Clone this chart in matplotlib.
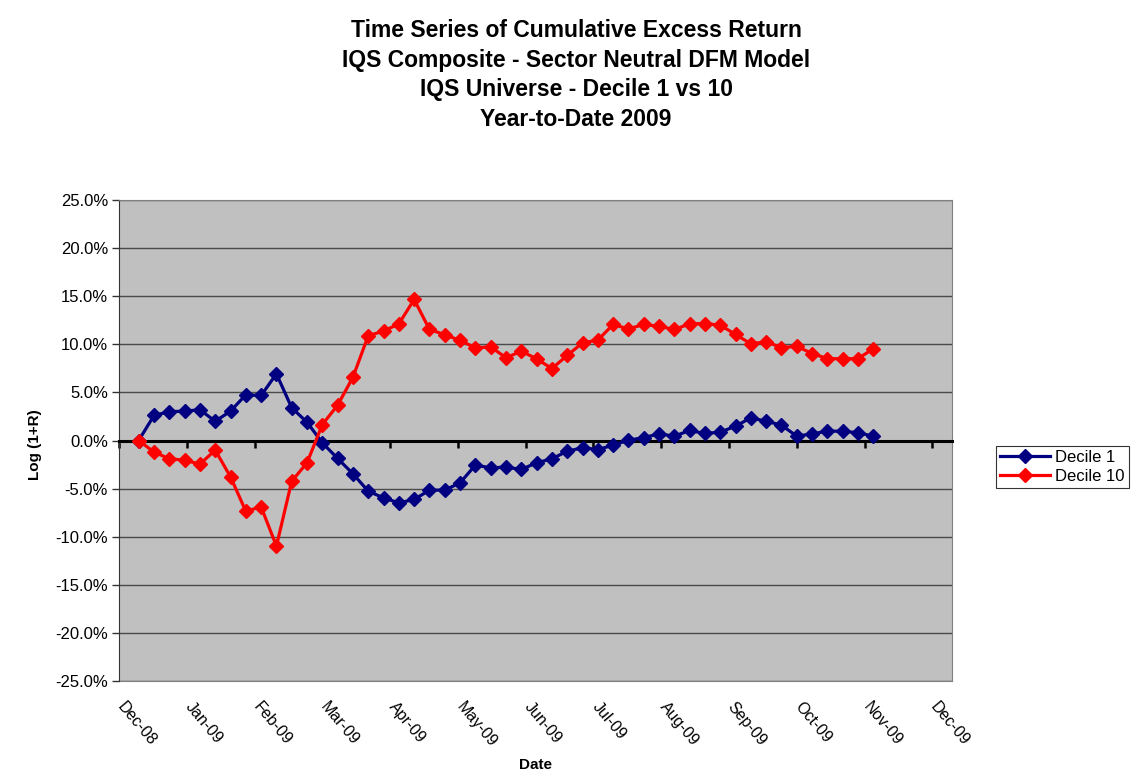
import matplotlib
matplotlib.use("Agg")
import matplotlib.pyplot as plt
import matplotlib.dates as mdates
from matplotlib.ticker import FuncFormatter
from matplotlib.transforms import ScaledTranslation
import numpy as np
import pandas as pd

plt.rcParams['font.family'] = ['Liberation Sans', 'DejaVu Sans']

# Weekly observations, first one on 31 Dec 2008
dates = pd.date_range('2008-12-31', periods=49, freq='7D')

# Cumulative excess return, log(1+R), in percent
decile_1 = [0.0, 2.6, 3.0, 3.05, 3.2, 2.0, 3.05, 4.75, 4.68, 6.93,
            3.4, 1.9, -0.24, -1.87, -3.46, -5.27, -5.96, -6.48, -6.13, -5.16,
            -5.16, -4.4, -2.56, -2.84, -2.77, -3.01, -2.32, -1.9, -1.11, -0.76,
            -0.94, -0.49, 0.03, 0.3, 0.69, 0.45, 1.04, 0.73, 0.87, 1.49,
            2.36, 2.0, 1.6, 0.45, 0.69, 0.97, 0.97, 0.8, 0.45]
decile_10 = [0.0, -1.2, -1.9, -2.04, -2.46, -1.0, -3.78, -7.35, -6.9, -10.98,
             -4.23, -2.32, 1.66, 3.67, 6.58, 10.9, 11.36, 12.13, 14.66, 11.54,
             11.0, 10.4, 9.63, 9.74, 8.6, 9.28, 8.49, 7.48, 8.84, 10.15,
             10.43, 12.06, 11.6, 12.06, 11.88, 11.54, 12.13, 12.16, 11.99, 11.02,
             10.05, 10.26, 9.65, 9.8, 9.04, 8.52, 8.49, 8.52, 9.53]

title = ("Time Series of Cumulative Excess Return\n"
         "IQS Composite - Sector Neutral DFM Model\n"
         "IQS Universe - Decile 1 vs 10\n"
         "Year-to-Date 2009")

# Excel-style date axis: starts 22 Dec 2008, major unit 31 days
axis_start = pd.Timestamp('2008-12-22')
tick_dates = [axis_start + pd.Timedelta(days=31 * k) for k in range(13)]
tick_pos = mdates.date2num(tick_dates)
tick_labels = [d.strftime('%b-%y') for d in tick_dates]


def pct(v, pos):
    v = round(v * 100, 1) + 0.0
    return f"{v:.1f}%"


W, H = 1137, 777
fig = plt.figure(figsize=(W / 100, H / 100), dpi=100)
ax = fig.add_axes([119 / W, (H - 681) / H, (952 - 119) / W, (681 - 200) / H])
ax.set_facecolor('#C0C0C0')

x = mdates.date2num(dates)
ax.plot(x, np.array(decile_1) / 100, color='#000080', marker='D', ms=7.3,
        lw=2.3, label='Decile 1', zorder=4)
ax.plot(x, np.array(decile_10) / 100, color='#FF0000', marker='D', ms=7.3,
        lw=2.3, label='Decile 10', zorder=4)

ax.set_xlim(mdates.date2num(axis_start),
            mdates.date2num(axis_start + pd.Timedelta(days=381)))
ax.set_ylim(-0.25, 0.25)
ax.set_yticks(np.arange(-0.25, 0.2501, 0.05))
ax.yaxis.set_major_formatter(FuncFormatter(pct))
ax.tick_params(axis='y', direction='out', length=5, width=1, labelsize=12,
               color='#333333', pad=3)
ax.yaxis.grid(True, color='#4a4a4a', lw=1)
ax.set_axisbelow(True)

# horizontal axis crosses at zero, labels sit below the plot area
ax.spines['bottom'].set_position(('data', 0))
ax.spines['bottom'].set_linewidth(2.2)
ax.spines['bottom'].set_color('black')
ax.spines['bottom'].set_zorder(3)
ax.set_xticks(tick_pos)
ax.tick_params(axis='x', direction='out', length=5, width=1.8,
               labelbottom=False)
for s in ['top', 'right']:
    ax.spines[s].set_color('#808080')
ax.spines['left'].set_color('#333333')

sec = ax.secondary_xaxis('bottom')
sec.set_xticks(tick_pos)
sec.set_xticklabels(tick_labels, rotation=-50, ha='left', va='top',
                    rotation_mode='anchor', fontsize=11.5)
sec.tick_params(length=0, pad=13)
sec.spines['bottom'].set_color('#808080')
shift = ScaledTranslation(7 / 100, 0, fig.dpi_scale_trans)
for lbl in sec.get_xticklabels():
    lbl.set_transform(lbl.get_transform() + shift)

fig.text(576 / W, 1 - 75 / H, title, ha='center', va='center',
         fontsize=16.5, fontweight='bold', linespacing=1.38)
fig.text(35 / W, 1 - 445 / H, 'Log (1+R)', rotation=90, ha='center',
         va='center', fontsize=11, fontweight='bold')
fig.text(535 / W, 1 - 765 / H, 'Date', ha='center', va='center',
         fontsize=11, fontweight='bold')

leg = fig.legend(loc='center left', bbox_to_anchor=(996 / W, 1 - 467 / H),
                 fontsize=12, fancybox=False, edgecolor='black',
                 handlelength=3.0, borderpad=0.25, labelspacing=0.25,
                 handletextpad=0.3, borderaxespad=0)
leg.get_frame().set_linewidth(0.8)

fig.savefig('out.png', dpi=100)
